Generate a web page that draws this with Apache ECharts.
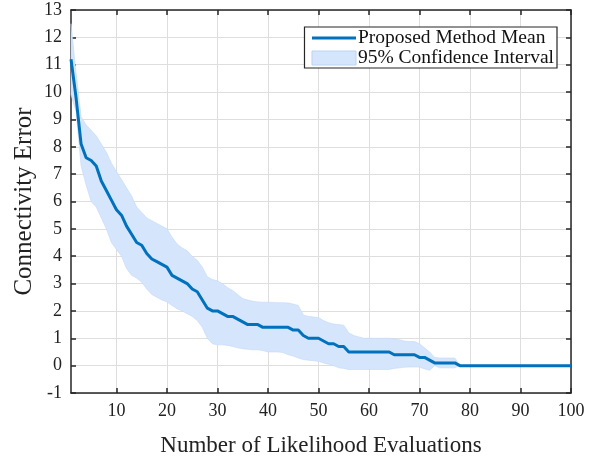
<!DOCTYPE html>
<html>
<head>
<meta charset="utf-8">
<script src="https://cdn.jsdelivr.net/npm/echarts@6/dist/echarts.min.js"></script>
<style>html,body{margin:0;padding:0;background:#fff}#c{width:601px;height:462px}</style>
</head>
<body>
<div id="c"></div>
<script>
const evals = [1,2,3,4,5,6,7,8,9,10,11,12,13,14,15,16,17,18,19,20,21,22,23,24,25,26,27,28,29,30,31,32,33,34,35,36,37,38,39,40,41,42,43,44,45,46,47,48,49,50,51,52,53,54,55,56,57,58,59,60,61,62,63,64,65,66,67,68,69,70,71,72,73,74,75,76,77,78,79,80,81,82,83,84,85,86,87,88,89,90,91,92,93,94,95,96,97,98,99,100];
const meanErr = [11.2,9.8,8.1,7.6,7.5,7.3,6.75,6.4,6.05,5.7,5.5,5.1,4.8,4.5,4.4,4.1,3.9,3.8,3.7,3.6,3.3,3.2,3.1,3.0,2.8,2.7,2.4,2.1,2.0,2.0,1.9,1.8,1.8,1.7,1.6,1.5,1.5,1.5,1.4,1.4,1.4,1.4,1.4,1.4,1.3,1.3,1.1,1.0,1.0,1.0,0.9,0.8,0.8,0.7,0.7,0.5,0.5,0.5,0.5,0.5,0.5,0.5,0.5,0.5,0.4,0.4,0.4,0.4,0.4,0.3,0.3,0.2,0.1,0.1,0.1,0.1,0.1,0,0,0,0,0,0,0,0,0,0,0,0,0,0,0,0,0,0,0,0,0,0,0];
const upperCI = [12.5,10.7,9.1,8.8,8.6,8.4,8.1,7.8,7.4,7.1,6.8,6.5,6.2,5.8,5.6,5.4,5.3,5.2,5.1,5.0,4.7,4.45,4.3,4.2,4.0,3.85,3.6,3.25,3.15,3.1,3.0,2.85,2.75,2.6,2.45,2.4,2.35,2.33,2.32,2.32,2.31,2.3,2.3,2.29,2.25,2.2,1.85,1.8,1.78,1.76,1.65,1.57,1.52,1.5,1.48,1.2,1.1,1.05,1.0,1.0,1.0,1.0,1.0,1.0,0.98,0.95,0.9,0.88,0.88,0.8,0.65,0.5,0.3,0.28,0.28,0.28,0.28,0,0,0,0,0,0,0,0,0,0,0,0,0,0,0,0,0,0,0,0,0,0,0];
const lowerCI = [9.9,9.3,7.3,6.6,6.0,5.8,5.4,5.0,4.5,4.25,4.0,3.55,3.3,3.2,3.05,2.8,2.6,2.5,2.4,2.33,2.2,2.08,2.0,1.9,1.8,1.65,1.4,1.0,0.8,0.76,0.76,0.74,0.7,0.65,0.62,0.6,0.58,0.58,0.55,0.5,0.5,0.5,0.48,0.4,0.35,0.28,0.22,0.2,0.18,0.16,0.1,0.05,0.0,-0.08,-0.1,-0.14,-0.14,-0.14,-0.14,-0.14,-0.14,-0.14,-0.14,-0.14,-0.1,-0.08,-0.06,-0.05,-0.05,-0.05,-0.12,-0.17,0.0,-0.08,-0.08,-0.08,-0.08,0,0,0,0,0,0,0,0,0,0,0,0,0,0,0,0,0,0,0,0,0,0,0];
const xTicks = [10,20,30,40,50,60,70,80,90,100];
const meanName = 'Proposed Method Mean';
const ciName = '95% Confidence Interval';
const xTitle = 'Number of Likelihood Evaluations';
const yTitle = 'Connectivity Error';

const FONT = '"Liberation Serif", "Times New Roman", serif';
const AX = '#262626';
const chart = echarts.init(document.getElementById('c'), null, {renderer: 'canvas'});

const meanData = evals.map((x, i) => [x, meanErr[i]]);
const bandData = evals.map((x, i) => [x, lowerCI[i], upperCI[i]]);

function renderBand(params, api) {
  if (params.dataIndex !== 0) return null;
  const pts = [];
  for (let i = 0; i < bandData.length; i++) pts.push(api.coord([bandData[i][0], bandData[i][2]]));
  for (let i = bandData.length - 1; i >= 0; i--) pts.push(api.coord([bandData[i][0], bandData[i][1]]));
  return {
    type: 'polygon',
    shape: {points: pts},
    style: {fill: '#d5e5fc', stroke: '#c3d8f7', lineWidth: 0.6}
  };
}

const baseX = {
  type: 'value', min: 1, max: 100,
  axisLine: {show: true, onZero: false, lineStyle: {color: AX, width: 1.5}},
  axisTick: {show: true, inside: true, length: 5, customValues: xTicks, lineStyle: {color: AX, width: 1.5}},
};
const baseY = {
  type: 'value', min: -1, max: 13, interval: 1,
  axisLine: {show: true, onZero: false, lineStyle: {color: AX, width: 1.5}},
  axisTick: {show: true, inside: true, length: 5, lineStyle: {color: AX, width: 1.5}},
};

chart.setOption({
  animation: false,
  backgroundColor: '#fff',
  grid: {left: 71, right: 30, top: 10, bottom: 65, containLabel: false},
  legend: {
    orient: 'vertical', right: 44, top: 27,
    backgroundColor: '#fff', borderColor: AX, borderWidth: 1.2, borderRadius: 0,
    padding: [1, 3, 0, 7], itemGap: 0, itemWidth: 44, itemHeight: 14,
    textStyle: {fontFamily: FONT, fontSize: 19.5, color: '#111', padding: [0, 0, 0, -3], lineHeight: 17},
    data: [
      {name: meanName, icon: 'path://M0,6 L44,6 L44,9 L0,9 Z', itemStyle: {color: '#0072BD'}},
      {name: ciName, icon: 'rect', itemStyle: {color: '#d5e5fc', borderColor: '#bcd2f5', borderWidth: 1}}
    ]
  },
  xAxis: [
    Object.assign({}, baseX, {
      position: 'bottom',
      name: xTitle, nameLocation: 'middle', nameGap: 41,
      nameTextStyle: {fontFamily: FONT, fontSize: 23, color: '#222'},
      axisLabel: {show: true, customValues: xTicks, margin: 9, fontFamily: FONT, fontSize: 18, color: '#222'},
      splitLine: {show: true, lineStyle: {color: '#dedede', width: 1}}
    }),
    Object.assign({}, baseX, {
      position: 'top',
      axisLabel: {show: false}, splitLine: {show: false}
    })
  ],
  yAxis: [
    Object.assign({}, baseY, {
      position: 'left',
      name: yTitle, nameLocation: 'middle', nameGap: 34, nameMoveOverlap: false,
      nameTextStyle: {fontFamily: FONT, fontSize: 25, color: '#222'},
      axisLabel: {show: true, margin: 9, fontFamily: FONT, fontSize: 18, color: '#222'},
      splitLine: {show: true, lineStyle: {color: '#dedede', width: 1}}
    }),
    Object.assign({}, baseY, {
      position: 'right',
      axisLabel: {show: false}, splitLine: {show: false}
    })
  ],
  series: [
    {
      name: ciName, type: 'custom', data: bandData,
      encode: {x: 0, y: [1, 2]},
      renderItem: renderBand, silent: true, z: 2,
      itemStyle: {color: '#d5e5fc'}
    },
    {
      name: meanName, type: 'line', data: meanData,
      symbol: 'none',
      lineStyle: {color: '#0072BD', width: 3}, z: 5
    }
  ]
});
</script>
</body>
</html>
